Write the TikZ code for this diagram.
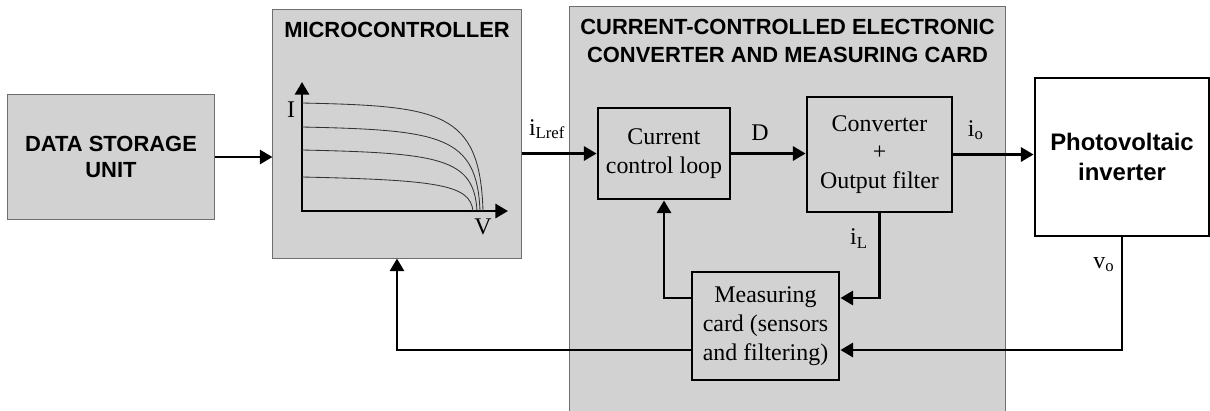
\documentclass[tikz,border=0pt]{standalone}
\usepackage{fontspec}
\setmainfont{Liberation Serif}
\setsansfont{Liberation Sans}
\usetikzlibrary{arrows.meta,positioning,calc}
\definecolor{ink}{HTML}{000000}
\definecolor{panel}{HTML}{D2D2D2}
\definecolor{rim}{HTML}{6E6E6E}
\definecolor{trace}{HTML}{333333}

\begin{document}
\begin{tikzpicture}[
    x=0.025cm, y=-0.025cm,
    every node/.style={font=\fontsize{17}{20.5}\selectfont},
    panelbox/.style={draw=rim, line width=0.7pt, fill=panel, inner sep=0pt, align=center},
    blockbox/.style={draw=ink, line width=2pt, fill=panel, inner sep=0pt, align=center},
    heading/.style={font=\sffamily\bfseries\fontsize{15.6}{19.9}\selectfont, align=center},
    signal/.style={draw=ink, line width=2pt, -{Triangle[length=9pt,width=10pt]}},
    wire/.style={draw=ink, line width=2pt}
  ]
  \clip (0,0) rectangle (1210,410);

  % outer panels
  \node[panelbox, minimum width=10.875cm, minimum height=10.4cm] (card) at (787.5,215) {};
  \node[heading] at (787.5,41) {CURRENT-CONTROLLED ELECTRONIC\\CONVERTER AND MEASURING CARD};

  \node[panelbox, minimum width=5.15cm, minimum height=3.1cm,
        font=\sffamily\bfseries\fontsize{15.6}{19}\selectfont] (store) at (111,157) {DATA STORAGE\\UNIT};

  \node[panelbox, minimum width=6.2cm, minimum height=6.2cm] (mcu) at (397,134) {};
  \node[heading] at (397,30) {MICROCONTROLLER};

  % I-V curves
  \draw[line width=2pt, {Triangle[length=9pt,width=10pt]}-{Triangle[length=9pt,width=10pt]}]
    (302,82) -- (302,211) -- (508,211);
  \foreach \y/\x in {103/483, 127/480, 150/477, 177/473}
    \draw[trace, line width=0.6pt] (302,\y) .. controls (440,{\y+3}) and ({\x-3},{\y+8}) .. (\x,211);
  \node at (291,110) {I};
  \node at (483,227) {V};

  % inner blocks
  \node[blockbox, minimum width=3.3cm, minimum height=2.275cm] (ctrl) at (664,153.5) {Current\\control loop};
  \node[blockbox, minimum width=3.625cm, minimum height=2.875cm] (conv) at (879.5,154.5) {Converter\\+\\Output filter};
  \node[blockbox, minimum width=3.675cm, minimum height=2.7cm] (meas) at (765.5,326) {Measuring\\card (sensors\\and filtering)};
  \node[blockbox, fill=white, minimum width=4.35cm, minimum height=3.95cm,
        font=\sffamily\bfseries\fontsize{17}{21}\selectfont] (pvi) at (1122,157) {Photovoltaic\\inverter};

  % signal paths
  \draw[signal] (store) -- (mcu.west |- store);
  \draw[signal] (mcu.east |- ctrl.west) -- (ctrl.west)
    node[pos=0, anchor=south west, xshift=1pt, yshift=6pt] {i\textsubscript{Lref}};
  \draw[signal] (ctrl.east) -- (conv.west |- ctrl.east)
    node[midway, above=5pt, xshift=-6pt] {D};
  \draw[signal] (conv.east) -- (pvi.west |- conv.east)
    node[pos=0, anchor=south west, xshift=6pt, yshift=6pt] {i\textsubscript{o}};
  \draw[signal] (conv.south) |- ([yshift=0.7cm]meas.east)
    node[pos=0.15, left=4pt] {i\textsubscript{L}};
  \draw[signal] (pvi.south) |- ([yshift=-0.6cm]meas.east)
    node[pos=0.12, left=1pt] {v\textsubscript{o}};
  \draw[signal] ([yshift=0.7cm]meas.west) -| (ctrl.south);
  \draw[signal] ([yshift=-0.6cm]meas.west) -| (mcu.south);
\end{tikzpicture}
\end{document}
